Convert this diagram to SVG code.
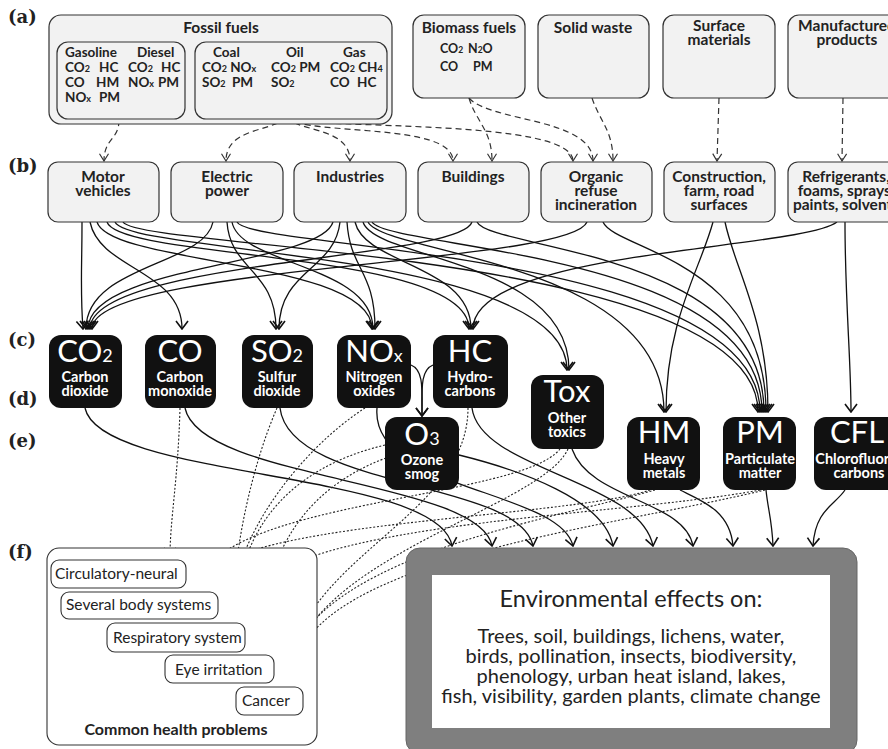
<svg xmlns="http://www.w3.org/2000/svg" width="888" height="749" viewBox="0 0 888 749">
<defs>
<style>
.lbl{font-family:"DejaVu Serif",serif;font-weight:bold;font-size:18px;fill:#222}
.src{fill:#f2f2f2;stroke:#333;stroke-width:1.2}
.t{font-family:Lato,"Liberation Sans",sans-serif;font-weight:bold;fill:#222}
.h{font-size:15.5px;text-anchor:middle}
.f{font-size:13.5px}
.g{font-size:12.5px}
.b{font-size:15.5px;text-anchor:middle}
.pol{fill:#111}
.big{font-family:Lato,"Liberation Sans",sans-serif;font-size:31px;fill:#fff;text-anchor:middle}
.pl{font-family:Lato,"Liberation Sans",sans-serif;font-weight:bold;font-size:14.5px;fill:#fff;text-anchor:middle}
.hb{fill:#fff;stroke:#333;stroke-width:1.1}
.ht{font-family:Lato,"Liberation Sans",sans-serif;font-size:15.5px;fill:#222}
.et{font-family:Lato,"Liberation Sans",sans-serif;font-size:20px;fill:#222;text-anchor:middle}
.eh{font-family:Lato,"Liberation Sans",sans-serif;font-size:23.5px;fill:#222;text-anchor:middle}
.s{fill:none;stroke:#111;stroke-width:1.3}
.d{fill:none;stroke:#333;stroke-width:1.2;stroke-dasharray:6,4}
.o{fill:none;stroke:#222;stroke-width:1.1;stroke-dasharray:2,1.8}
</style>
<marker id="ah" viewBox="0 0 10 14" markerWidth="10" markerHeight="14" refX="9" refY="7" orient="auto" markerUnits="userSpaceOnUse"><path d="M1,1 L9,7 L1,13" fill="none" stroke="#111" stroke-width="1.6"/></marker>
<marker id="ahd" viewBox="0 0 10 12" markerWidth="9" markerHeight="11" refX="9" refY="6" orient="auto" markerUnits="userSpaceOnUse"><path d="M1,1 L9,6 L1,11" fill="none" stroke="#333" stroke-width="1.3"/></marker>
<marker id="aho" viewBox="0 0 10 14" markerWidth="10" markerHeight="14" refX="9" refY="7" orient="auto" markerUnits="userSpaceOnUse"><path d="M1,1 L9,7 L1,13" fill="none" stroke="#222" stroke-width="1.8"/></marker>
</defs>
<rect width="888" height="749" fill="#fff"/>

<g id="labels">
<text class="lbl" x="8" y="23">(a)</text>
<text class="lbl" x="8" y="172">(b)</text>
<text class="lbl" x="8" y="346">(c)</text>
<text class="lbl" x="8" y="405">(d)</text>
<text class="lbl" x="8" y="447">(e)</text>
<text class="lbl" x="8" y="558">(f)</text>
</g>

<g id="connectors">
<g class="dashed">
<path class="d" d="M119,120 C119,140 104,138 104,161" marker-end="url(#ahd)"/>
<path class="d" d="M286,118 C270,132 226,128 226,161" marker-end="url(#ahd)"/>
<path class="d" d="M286,118 C302,132 350,128 350,161" marker-end="url(#ahd)"/>
<path class="d" d="M286,118 C310,136 453,122 453,161" marker-end="url(#ahd)"/>
<path class="d" d="M286,118 C320,130 573,118 573,161" marker-end="url(#ahd)"/>
<path class="d" d="M469,98 C476,122 492,130 492,161" marker-end="url(#ahd)"/>
<path class="d" d="M469,98 C490,122 593,118 593,161" marker-end="url(#ahd)"/>
<path class="d" d="M592,98 C600,122 613,130 613,161" marker-end="url(#ahd)"/>
<path class="d" d="M719,98 L717,161" marker-end="url(#ahd)"/>
<path class="d" d="M843,98 L842,161" marker-end="url(#ahd)"/>
</g>
<g class="solid">
<path class="s" d="M82,222 C82,270 80,290 83,329" marker-end="url(#ah)"/>
<path class="s" d="M90,222 C100,270 182,270 182,329" marker-end="url(#ah)"/>
<path class="s" d="M97,222 C110,265 372,260 372,329" marker-end="url(#ah)"/>
<path class="s" d="M107,222 C120,260 469,250 469,329" marker-end="url(#ah)"/>
<path class="s" d="M115,222 C130,255 567,250 567,370" marker-end="url(#ah)"/>
<path class="s" d="M123,222 C140,250 758,250 758,412" marker-end="url(#ah)"/>
<path class="s" d="M213,222 C205,265 86,265 86,329" marker-end="url(#ah)"/>
<path class="s" d="M227,222 C230,270 276,270 276,329" marker-end="url(#ah)"/>
<path class="s" d="M232,222 C240,265 373,265 373,329" marker-end="url(#ah)"/>
<path class="s" d="M237,222 C250,250 760,250 760,412" marker-end="url(#ah)"/>
<path class="s" d="M333,222 C320,265 88,265 88,329" marker-end="url(#ah)"/>
<path class="s" d="M340,222 C335,270 279,270 279,329" marker-end="url(#ah)"/>
<path class="s" d="M347,222 C350,270 375,270 375,329" marker-end="url(#ah)"/>
<path class="s" d="M355,222 C365,265 471,265 471,329" marker-end="url(#ah)"/>
<path class="s" d="M363,222 C375,260 569,260 569,370" marker-end="url(#ah)"/>
<path class="s" d="M368,222 C385,255 664,260 664,412" marker-end="url(#ah)"/>
<path class="s" d="M372,222 C390,250 762,250 762,412" marker-end="url(#ah)"/>
<path class="s" d="M472,222 C460,260 90,260 90,329" marker-end="url(#ah)"/>
<path class="s" d="M477,222 C490,250 764,250 764,412" marker-end="url(#ah)"/>
<path class="s" d="M587,222 C570,265 92,265 92,329" marker-end="url(#ah)"/>
<path class="s" d="M603,222 C615,250 766,260 766,412" marker-end="url(#ah)"/>
<path class="s" d="M713,222 C700,270 666,320 666,412" marker-end="url(#ah)"/>
<path class="s" d="M725,222 C735,270 768,320 768,412" marker-end="url(#ah)"/>
<path class="s" d="M837,222 C800,250 473,250 473,329" marker-end="url(#ah)"/>
<path class="s" d="M845,222 C845,300 851,360 851,412" marker-end="url(#ah)"/>
<path class="s" d="M411,365 C424,370 422,390 422,416" marker-end="url(#ah)"/>
<path class="s" d="M433,365 C420,370 422,390 422,416" marker-end="url(#ah)"/>
</g>
<g class="env">
<path class="s" d="M85,408 C100,480 440,470 452,546" marker-end="url(#ah)"/>
<path class="s" d="M185,408 C200,480 480,480 492,546" marker-end="url(#ah)"/>
<path class="s" d="M280,408 C290,490 520,480 533,546" marker-end="url(#ah)"/>
<path class="s" d="M377,408 C370,490 560,490 573,546" marker-end="url(#ah)"/>
<path class="s" d="M459,455 C520,470 605,500 613,546" marker-end="url(#ah)"/>
<path class="s" d="M472,408 C480,470 640,480 653,546" marker-end="url(#ah)"/>
<path class="s" d="M572,449 C590,500 685,500 693,546" marker-end="url(#ah)"/>
<path class="s" d="M680,490 C700,500 730,510 733,546" marker-end="url(#ah)"/>
<path class="s" d="M766,490 C768,510 772,520 773,546" marker-end="url(#ah)"/>
<path class="s" d="M845,490 C835,505 815,510 813,546" marker-end="url(#ah)"/>
</g>
<g class="health">
<path class="o" d="M180,408 C178,480 170,520 170,556" marker-end="url(#aho)"/>
<path class="o" d="M277,408 C250,470 232,560 233,620" marker-end="url(#aho)"/>
<path class="o" d="M365,408 C300,450 230,540 230,620" marker-end="url(#aho)"/>
<path class="o" d="M385,445 C280,470 236,540 236,620" marker-end="url(#aho)"/>
<path class="o" d="M386,458 C300,490 262,560 262,646" marker-end="url(#aho)"/>
<path class="o" d="M468,408 C468,520 290,560 288,683" marker-end="url(#aho)"/>
<path class="o" d="M560,449 C520,500 210,500 198,588" marker-end="url(#aho)"/>
<path class="o" d="M568,449 C540,510 292,560 290,683" marker-end="url(#aho)"/>
<path class="o" d="M650,490 C560,520 205,520 200,588" marker-end="url(#aho)"/>
<path class="o" d="M655,490 C550,520 290,560 286,683" marker-end="url(#aho)"/>
<path class="o" d="M760,490 C600,520 240,520 238,620" marker-end="url(#aho)"/>
<path class="o" d="M765,490 C600,530 293,560 292,683" marker-end="url(#aho)"/>
</g>
</g>

<g id="fossil">
<rect class="src" x="49" y="15" width="343" height="109" rx="12"/>
<rect class="src" x="57" y="42" width="128" height="77" rx="11"/>
<rect class="src" x="195" y="42" width="192" height="77" rx="11"/>
<text class="t h" x="221" y="33">Fossil fuels</text>
<text class="t f" x="65" y="57">Gasoline</text><text class="t f" x="137" y="57">Diesel</text>
<text class="t f" x="65" y="72">CO<tspan font-size="9">2</tspan></text><text class="t f" x="99" y="72">HC</text>
<text class="t f" x="128" y="72">CO<tspan font-size="9">2</tspan></text><text class="t f" x="161" y="72">HC</text>
<text class="t f" x="65" y="87">CO</text><text class="t f" x="96" y="87">HM</text>
<text class="t f" x="128" y="87">NO<tspan font-size="9">x</tspan></text><text class="t f" x="158" y="87">PM</text>
<text class="t f" x="65" y="102">NO<tspan font-size="9">x</tspan></text><text class="t f" x="99" y="102">PM</text>
<text class="t f" x="213" y="57">Coal</text><text class="t f" x="286" y="57">Oil</text><text class="t f" x="343" y="57">Gas</text>
<text class="t f" x="202" y="72">CO<tspan font-size="9">2</tspan> NO<tspan font-size="9">x</tspan></text>
<text class="t f" x="271" y="72">CO<tspan font-size="9">2</tspan> PM</text>
<text class="t f" x="330" y="72">CO<tspan font-size="9">2</tspan> CH<tspan font-size="9">4</tspan></text>
<text class="t f" x="202" y="87">SO<tspan font-size="9">2</tspan></text><text class="t f" x="232" y="87">PM</text>
<text class="t f" x="271" y="87">SO<tspan font-size="9">2</tspan></text>
<text class="t f" x="330" y="87">CO</text><text class="t f" x="357" y="87">HC</text>
</g>
<g id="biomass">
<rect class="src" x="413" y="15" width="112" height="83" rx="11"/>
<text class="t h" x="469" y="33">Biomass fuels</text>
<text class="t g" x="440" y="53">CO<tspan font-size="8.5">2</tspan></text><text class="t g" x="468" y="53">N<tspan font-size="8.5">2</tspan>O</text>
<text class="t g" x="440" y="71">CO</text><text class="t g" x="473" y="71">PM</text>
</g>
<g id="solidwaste">
<rect class="src" x="538" y="15" width="111" height="83" rx="11"/>
<text class="t h" x="593" y="33">Solid waste</text>
</g>
<g id="surface">
<rect class="src" x="663" y="15" width="112" height="83" rx="11"/>
<text class="t h" x="719" y="31">Surface</text>
<text class="t h" x="719" y="45">materials</text>
</g>
<g id="manufactured">
<rect class="src" x="788" y="15" width="115" height="83" rx="11"/>
<text class="t h" x="847" y="31">Manufactured</text>
<text class="t h" x="847" y="45">products</text>
</g>

<g id="motor"><rect class="src" x="48" y="162" width="111" height="60" rx="10"/><text class="t b" x="103" y="182">Motor</text><text class="t b" x="103" y="196">vehicles</text></g>
<g id="electric"><rect class="src" x="171" y="162" width="112" height="60" rx="10"/><text class="t b" x="227" y="182">Electric</text><text class="t b" x="227" y="196">power</text></g>
<g id="industries"><rect class="src" x="294" y="162" width="112" height="60" rx="10"/><text class="t b" x="350" y="182">Industries</text></g>
<g id="buildings"><rect class="src" x="418" y="162" width="111" height="60" rx="10"/><text class="t b" x="473" y="182">Buildings</text></g>
<g id="organic"><rect class="src" x="541" y="162" width="111" height="60" rx="10"/><text class="t b" x="596" y="182">Organic</text><text class="t b" x="596" y="196">refuse</text><text class="t b" x="596" y="210">incineration</text></g>
<g id="construction"><rect class="src" x="664" y="162" width="111" height="60" rx="10"/><text class="t b" x="719" y="182">Construction,</text><text class="t b" x="719" y="196">farm, road</text><text class="t b" x="719" y="210">surfaces</text></g>
<g id="refrigerants"><rect class="src" x="788" y="162" width="115" height="60" rx="10"/><text class="t b" x="846" y="182">Refrigerants,</text><text class="t b" x="846" y="196">foams, sprays,</text><text class="t b" x="846" y="210">paints, solvents</text></g>

<g id="co2"><rect class="pol" x="49" y="335" width="73" height="73" rx="12"/><text class="big" x="85" y="362">CO<tspan font-size="18">2</tspan></text><text class="pl" x="85" y="382">Carbon</text><text class="pl" x="85" y="396">dioxide</text></g>
<g id="co"><rect class="pol" x="145" y="335" width="71" height="73" rx="12"/><text class="big" x="180" y="362">CO</text><text class="pl" x="180" y="382">Carbon</text><text class="pl" x="180" y="396">monoxide</text></g>
<g id="so2"><rect class="pol" x="242" y="335" width="71" height="73" rx="12"/><text class="big" x="277" y="362">SO<tspan font-size="18">2</tspan></text><text class="pl" x="277" y="382">Sulfur</text><text class="pl" x="277" y="396">dioxide</text></g>
<g id="nox"><rect class="pol" x="337" y="335" width="74" height="73" rx="12"/><text class="big" x="374" y="362">NO<tspan font-size="18">x</tspan></text><text class="pl" x="374" y="382">Nitrogen</text><text class="pl" x="374" y="396">oxides</text></g>
<g id="hc"><rect class="pol" x="433" y="335" width="75" height="73" rx="12"/><text class="big" x="470" y="362">HC</text><text class="pl" x="470" y="382">Hydro-</text><text class="pl" x="470" y="396">carbons</text></g>
<g id="tox"><rect class="pol" x="531" y="375" width="73" height="74" rx="12"/><text class="big" x="567" y="402">Tox</text><text class="pl" x="567" y="423">Other</text><text class="pl" x="567" y="437">toxics</text></g>
<g id="o3"><rect class="pol" x="385" y="417" width="74" height="73" rx="12"/><text class="big" x="422" y="445">O<tspan font-size="18">3</tspan></text><text class="pl" x="422" y="465">Ozone</text><text class="pl" x="422" y="479">smog</text></g>
<g id="hm"><rect class="pol" x="627" y="417" width="73" height="73" rx="12"/><text class="big" x="664" y="443">HM</text><text class="pl" x="664" y="464">Heavy</text><text class="pl" x="664" y="478">metals</text></g>
<g id="pm"><rect class="pol" x="723" y="417" width="73" height="73" rx="12"/><text class="big" x="760" y="443">PM</text><text class="pl" x="760" y="464">Particulate</text><text class="pl" x="760" y="478">matter</text></g>
<g id="cfl"><rect class="pol" x="814" y="417" width="88" height="73" rx="12"/><text class="big" x="857" y="443">CFL</text><text class="pl" x="859" y="464">Chlorofluoro-</text><text class="pl" x="859" y="478">carbons</text></g>

<g id="health">
<rect class="hb" x="47" y="548" width="270" height="197" rx="12"/>
<rect class="hb" x="51" y="560" width="135" height="28" rx="8"/><text class="ht" x="55" y="579">Circulatory-neural</text>
<rect class="hb" x="61" y="592" width="157" height="27" rx="8"/><text class="ht" x="66" y="610">Several body systems</text>
<rect class="hb" x="107" y="623" width="138" height="29" rx="8"/><text class="ht" x="113" y="643">Respiratory system</text>
<rect class="hb" x="165" y="655" width="109" height="28" rx="8"/><text class="ht" x="175" y="675">Eye irritation</text>
<rect class="hb" x="236" y="687" width="67" height="28" rx="8"/><text class="ht" x="242" y="706">Cancer</text>
<text class="t" x="176" y="735" font-size="16" text-anchor="middle">Common health problems</text>
</g>

<g id="environment">
<rect x="406" y="548" width="451" height="206" rx="14" fill="#7f7f7f" stroke="#666" stroke-width="1"/>
<rect x="432" y="575" width="398" height="153" fill="#fff"/>
<text class="eh" x="631" y="607">Environmental effects on:</text>
<text class="et" x="631" y="643">Trees, soil, buildings, lichens, water,</text>
<text class="et" x="631" y="663">birds, pollination, insects, biodiversity,</text>
<text class="et" x="631" y="683">phenology, urban heat island, lakes,</text>
<text class="et" x="631" y="703">fish, visibility, garden plants, climate change</text>
</g>
</svg>
